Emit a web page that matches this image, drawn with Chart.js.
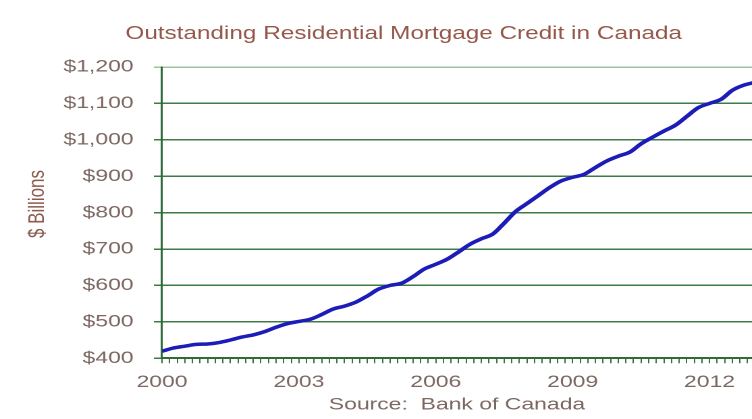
<!DOCTYPE html>
<html>
<head>
<meta charset="utf-8">
<script src="https://cdn.jsdelivr.net/npm/chart.js@4.4.1/dist/chart.umd.min.js"></script>
<style>
  html, body { margin: 0; padding: 0; background: #fff; }
  #wrap { width: 752px; height: 419px; overflow: hidden; position: relative; }
  /* the chart is drawn narrow and stretched sideways, like the original export */
  #box { width: 598px; height: 419px; transform: scaleX(1.35); transform-origin: 0 0; }
</style>
</head>
<body>
<div id="wrap"><div id="box"><canvas id="mortgage"></canvas></div></div>
<script>
// quarterly outstanding residential mortgage credit, $ billions, starting Q1 2000
const startYear = 2000;
const credit = [
  419, 428, 433, 438, 439, 443, 450, 458, 464, 473,
  485, 495, 501, 507, 520, 535, 543, 554, 571, 590,
  600, 606, 624, 645, 658, 672, 692, 713, 728, 741,
  771, 803, 825, 847, 869, 887, 897, 905, 924, 942,
  955, 966, 989, 1007, 1024, 1040, 1064, 1088, 1100, 1111,
  1136, 1150, 1158
];
const labelYears = [2000, 2003, 2006, 2009, 2012];
const yMin = 400;
const yMax = 1200;

const font = '"Liberation Sans", Arial, sans-serif';
const textColor = '#7b6762';
const gridGreen = '#3d7a45';

const points = credit.map((v, i) => ({ x: startYear + i / 4, y: v }));

// chart title and the rotated "$ Billions" caption
const captions = {
  id: 'captions',
  afterDraw(chart) {
    const ctx = chart.ctx;
    ctx.save();
    ctx.textAlign = 'center';
    ctx.textBaseline = 'middle';
    ctx.font = '18px ' + font;
    ctx.fillStyle = '#94584a';
    ctx.fillText('Outstanding Residential Mortgage Credit in Canada', 299, 34);
    ctx.translate(28, 204);
    ctx.rotate(-Math.PI / 2);
    ctx.font = '17px ' + font;
    ctx.fillStyle = '#8a5a4c';
    ctx.fillText('$ Billions', 0, 0);
    ctx.restore();
  }
};

new Chart(document.getElementById('mortgage'), {
  type: 'line',
  data: {
    datasets: [{
      data: points,
      borderColor: '#1c1cb8',
      borderWidth: 3.5,
      pointRadius: 0,
      cubicInterpolationMode: 'monotone',
      fill: false
    }]
  },
  options: {
    responsive: true,
    maintainAspectRatio: false,
    devicePixelRatio: 2,
    animation: false,
    layout: { padding: { left: 32, right: 41, top: 67, bottom: 0 } },
    plugins: {
      legend: { display: false },
      tooltip: { enabled: false },
      title: { display: false }
    },
    scales: {
      x: {
        type: 'linear',
        min: startYear,
        max: 2012.93,
        afterBuildTicks: (scale) => {
          const ticks = [];
          for (let m = 0; m <= 13 * 12; m += 2) {
            const v = startYear + m / 12;
            if (v <= scale.max + 1e-9) ticks.push({ value: v });
          }
          scale.ticks = ticks;
        },
        ticks: {
          autoSkip: false,
          maxRotation: 0,
          padding: 9,
          color: textColor,
          font: { family: font, size: 17 },
          callback: (value) => {
            const y = Math.round(value);
            return Math.abs(value - y) < 1e-6 && labelYears.includes(y) ? String(y) : '';
          }
        },
        grid: { drawOnChartArea: false, drawTicks: true, tickLength: 5, color: '#3f6f3f', lineWidth: 1 },
        border: { display: true, color: '#2f6a3a', width: 2 },
        title: {
          display: true,
          text: 'Source:  Bank of Canada',
          color: textColor,
          font: { family: font, size: 17 },
          padding: { top: -7, bottom: 4 }
        }
      },
      y: {
        min: yMin,
        max: yMax,
        ticks: {
          stepSize: 100,
          padding: 15,
          color: textColor,
          font: { family: font, size: 17 },
          callback: (value) => '$' + value.toLocaleString('en-US')
        },
        grid: {
          color: (c) => (c.tick && c.tick.value === yMax ? '#9cc49c' : gridGreen),
          lineWidth: 1.5,
          tickLength: 6
        },
        border: { display: true, color: '#2f6a3a', width: 1.5 }
      }
    }
  },
  plugins: [captions]
});
</script>
</body>
</html>
